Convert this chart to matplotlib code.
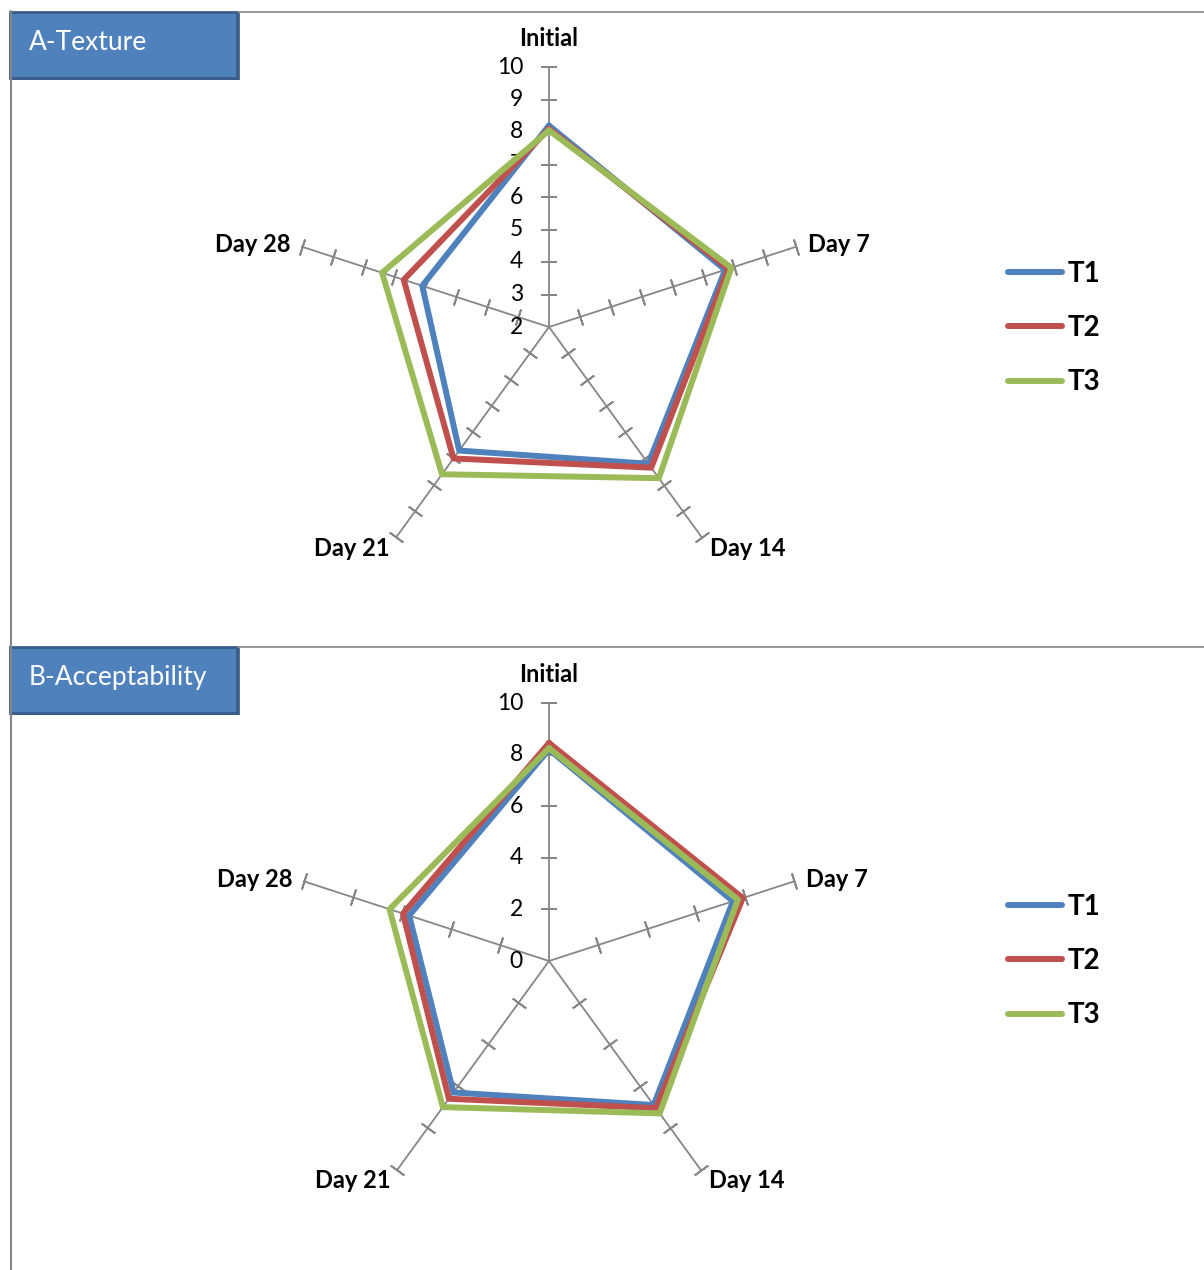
import numpy as np
import matplotlib
matplotlib.use("Agg")
import matplotlib.pyplot as plt
from matplotlib.patches import Rectangle
from matplotlib.lines import Line2D

plt.rcParams['font.family'] = ['Lato', 'DejaVu Sans']
plt.rcParams['lines.solid_capstyle'] = 'round'
plt.rcParams['lines.solid_joinstyle'] = 'round'

# ---- data ----
categories = ["Initial", "Day 7", "Day 14", "Day 21", "Day 28"]
series_names = ["T1", "T2", "T3"]

texture_T1 = [8.2, 7.7, 7.2, 6.7, 6.1]
texture_T2 = [8.1, 7.8, 7.35, 7.0, 6.7]
texture_T3 = [8.05, 7.9, 7.75, 7.6, 7.4]

accept_T1 = [8.2, 7.5, 6.9, 6.3, 5.7]
accept_T2 = [8.45, 7.9, 7.05, 6.6, 5.95]
accept_T3 = [8.25, 7.7, 7.3, 7.0, 6.5]

texture_ticks = [2, 3, 4, 5, 6, 7, 8, 9, 10]
accept_ticks = [0, 2, 4, 6, 8, 10]

panel_titles = ["A-Texture", "B-Acceptability"]

colors = ["#4F81BD", "#C0504D", "#9BBB59"]
grid_color = "#868686"

W, H = 1204, 1270
fig = plt.figure(figsize=(W / 100, H / 100), dpi=100)

def fx(px):
    return px / W

def fy(py):
    return 1 - py / H

# panel frame lines
fig.add_artist(Line2D([fx(10.5), fx(10.5)], [fy(11), fy(1270)], color=grid_color, lw=1.5, transform=fig.transFigure))
fig.add_artist(Line2D([fx(238), fx(1204)], [fy(11.5), fy(11.5)], color=grid_color, lw=1.2, transform=fig.transFigure))
fig.add_artist(Line2D([fx(238), fx(1204)], [fy(646.5), fy(646.5)], color=grid_color, lw=1.2, transform=fig.transFigure))

def label_box(top, text):
    # shadow
    fig.add_artist(Rectangle((fx(12), fy(top + 69)), fx(228), (67) / H,
                             transform=fig.transFigure, facecolor="#2f4f75", edgecolor="none", alpha=0.8))
    fig.add_artist(Rectangle((fx(10), fy(top + 67)), fx(227), (66) / H,
                             transform=fig.transFigure, facecolor="#4F81BD", edgecolor="#385D8A", lw=2))
    fig.text(fx(29), fy(top + 31), text, color="white", fontsize=19, ha="left", va="center")

label_box(11, panel_titles[0])
label_box(646, panel_titles[1])

label_offsets = [(0, 28), (12, 2), (8, -11), (-7, -11), (-11, 2)]
label_ha = ["center", "left", "left", "right", "right"]

def radar(cx, cy, R, rmin, rmax, ticks, data, legend_cy):
    ax = fig.add_axes([fx(cx - R), fy(cy + R), 2 * R / W, 2 * R / H], projection="polar")
    ax.set_theta_zero_location("N")
    ax.set_theta_direction(-1)
    ax.set_rlim(rmin, rmax)
    ax.grid(False)
    ax.set_xticks([])
    ax.set_yticks([])
    ax.spines["polar"].set_visible(False)
    ax.patch.set_visible(False)
    n = len(categories)
    thetas = np.deg2rad(np.arange(n) * 360 / n)
    # spokes and tick marks
    for i, th in enumerate(thetas):
        ax.plot([th, th], [rmin, rmax], color=grid_color, lw=1.3, clip_on=False, zorder=1)
        phi = 90 - 72 * i
        tk = [t for t in ticks if t > rmin]
        ax.plot([th] * len(tk), tk, linestyle="none", marker=(2, 2, phi), markersize=12,
                markeredgewidth=1.3, color=grid_color, clip_on=False, zorder=1)
        ax.annotate(categories[i], xy=(th, rmax), xytext=label_offsets[i], textcoords="offset pixels",
                    ha=label_ha[i], va="center", fontsize=17, fontweight="bold", annotation_clip=False)
    for t in ticks:
        ax.annotate(str(t), xy=(0, t), xytext=(-26, 0), textcoords="offset pixels",
                    ha="right", va="center", fontsize=16.5, annotation_clip=False)
    handles = []
    th_closed = np.concatenate([thetas, thetas[:1]])
    for vals, c, name in zip(data, colors, series_names):
        v = np.array(vals + vals[:1])
        ln, = ax.plot(th_closed, v, color=c, lw=4.3, clip_on=False, zorder=3, label=name)
        handles.append(ln)
    ax.legend(handles=handles, loc="center left", bbox_to_anchor=(fx(1008), fy(legend_cy)),
              bbox_transform=fig.transFigure, frameon=False, borderpad=0, borderaxespad=0,
              handlelength=1.95, handletextpad=0.2, labelspacing=1.02,
              prop={"weight": "bold", "size": 20})
    return ax

radar(549, 327, 260, 2, 10, texture_ticks, [texture_T1, texture_T2, texture_T3], 328)
radar(549, 961, 258, 0, 10, accept_ticks, [accept_T1, accept_T2, accept_T3], 961)

fig.savefig("out.png", dpi=100)
